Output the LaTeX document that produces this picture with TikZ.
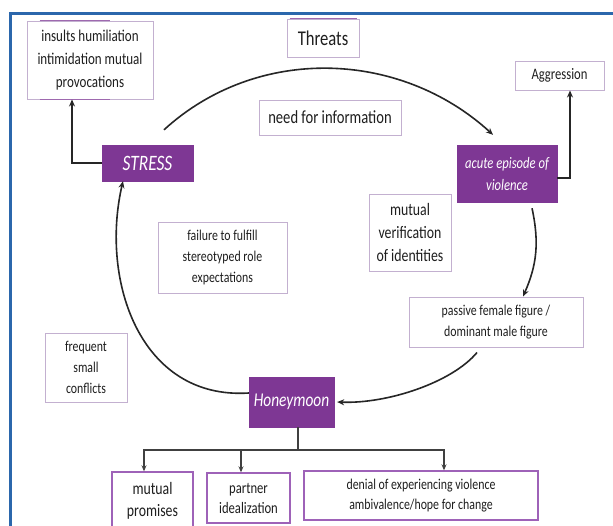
\documentclass[tikz,border=0pt]{standalone}
\usepackage{fontspec}
\setmainfont{Carlito}[FakeStretch=0.79]
\usetikzlibrary{arrows.meta,calc}
\definecolor{frameblue}{HTML}{2B67AC}
\definecolor{vpurple}{HTML}{7E3794}
\definecolor{lborder}{HTML}{C3B0D0}
\definecolor{dborder}{HTML}{9E62B8}
\definecolor{txt}{HTML}{1E1E1E}
\begin{document}
\begin{tikzpicture}[x=1pt,y=-1pt,
  lbox/.style={draw=lborder,line width=1pt,fill=white,text=txt,align=center,inner sep=0pt},
  dbox/.style={draw=dborder,line width=1.4pt,fill=white,text=txt,align=center,inner sep=0pt},
  pbox/.style={fill=vpurple,draw=vpurple,text=white,align=center,inner sep=0pt},
  wh/.style 2 args={minimum width=#1pt,minimum height=#2pt},
  fs/.style 2 args={font=\fontsize{#1}{#2}\selectfont},
  fsi/.style 2 args={font=\fontsize{#1}{#2}\selectfont\itshape},
  arr/.style={-{Stealth[length=7pt,width=6pt]},line width=1.6pt,draw=black!85},
  br/.style={line width=1.4pt,draw=black!75},
  brarr/.style={br,-{Stealth[length=6pt,width=5pt]}},
  accent/.style={draw=vpurple!75,line width=1.6pt}]
\path[use as bounding box] (0,0) rectangle (613,525);
\clip (0,0) rectangle (613,525);
\fill[white] (0,0) rectangle (613,525);
\draw[frameblue,line width=3pt] (10,540) -- (10,13) -- (630,13);

% nodes
\node[lbox,wh={126}{78},fs={16.5}{23}] (insults) at (90,60) {insults humiliation\\intimidation mutual\\provocations};
\node[lbox,wh={72}{38},fs={21}{22}] (threats) at (323,38) {Threats};
\node[lbox,wh={142}{35},fs={18.5}{20}] (need) at (330,117.5) {need for information};
\node[pbox,wh={91}{36},fsi={22}{22}] (stress) at (147.5,163) {STRESS};
\node[pbox,wh={100}{57},fsi={16}{22}] (acute) at (507,173.5) {acute episode of\\violence};
\node[lbox,wh={89}{29},fs={16}{18}] (aggr) at (559.5,75.5) {Aggression};
\node[lbox,wh={82}{77},fs={17.5}{23}] (verif) at (410,232.5) {mutual\\verification\\of identities};
\node[lbox,wh={129}{71},fs={15}{21}] (failure) at (222.5,257.5) {failure to fulfill\\stereotyped role\\expectations};
\node[lbox,wh={174}{50},fs={15}{21}] (passive) at (496,322) {passive female figure /\\dominant male figure};
\node[lbox,wh={82}{69},fs={15}{21}] (frequent) at (86,367.5) {frequent\\small\\conflicts};
\node[pbox,wh={85}{50},fsi={19.5}{22}] (honey) at (291.5,402) {Honeymoon};
\node[dbox,wh={81}{58},fs={17.5}{22}] (promises) at (152.5,501) {mutual\\promises};
\node[dbox,wh={83}{50},fs={16}{20}] (partner) at (248.5,498) {partner\\idealization};
\node[dbox,wh={234}{49},fs={15}{20}] (denial) at (421,495.5) {denial of experiencing violence\\ambivalence/hope for change};

% purple accents on box edges
\draw[accent] ($(insults.north west)+(13,0)$) -- ($(insults.north west)+(83,0)$);
\draw[accent] ($(insults.south west)+(13,0)$) -- ($(insults.south west)+(83,0)$);
\draw[accent] ($(threats.north west)+(3,0)$) -- ($(threats.north east)+(-3,0)$);

% cycle
\draw[arr] ([shift={(16.5,-15)}]stress.north) .. controls +(93,-85) and +(-93,-85) .. ([shift={(-14,-10)}]acute.north);
\draw[arr] ([shift={(25,6)}]acute.south) to[bend left=18] ([xshift=27pt]passive.north);
\draw[arr] ([shift={(-19,5)}]passive.south) .. controls +(-25,30) and +(50,2) .. ([xshift=3pt]honey.east);
\draw[arr] ([yshift=9pt]honey.west) .. controls +(-109,7) and +(-23,99) .. ([xshift=-24.5pt]stress.south);

% side arrows
\draw[arr,line width=1.4pt] (stress.west) -| ([xshift=-18pt]insults.south);
\draw[arr,line width=1.4pt] ([yshift=-4.5pt]acute.east) -| ([xshift=10.5pt]aggr.south);

% honeymoon branches
\coordinate (bus) at (298,450);
\draw[br] ([xshift=6.5pt]honey.south) -- (bus);
\draw[brarr] (bus) -| ([xshift=-8.5pt]promises.north);
\draw[brarr] (bus) -| ([xshift=-7.5pt]partner.north);
\draw[brarr] (bus) -| ([xshift=23pt]denial.north);
\end{tikzpicture}
\end{document}
